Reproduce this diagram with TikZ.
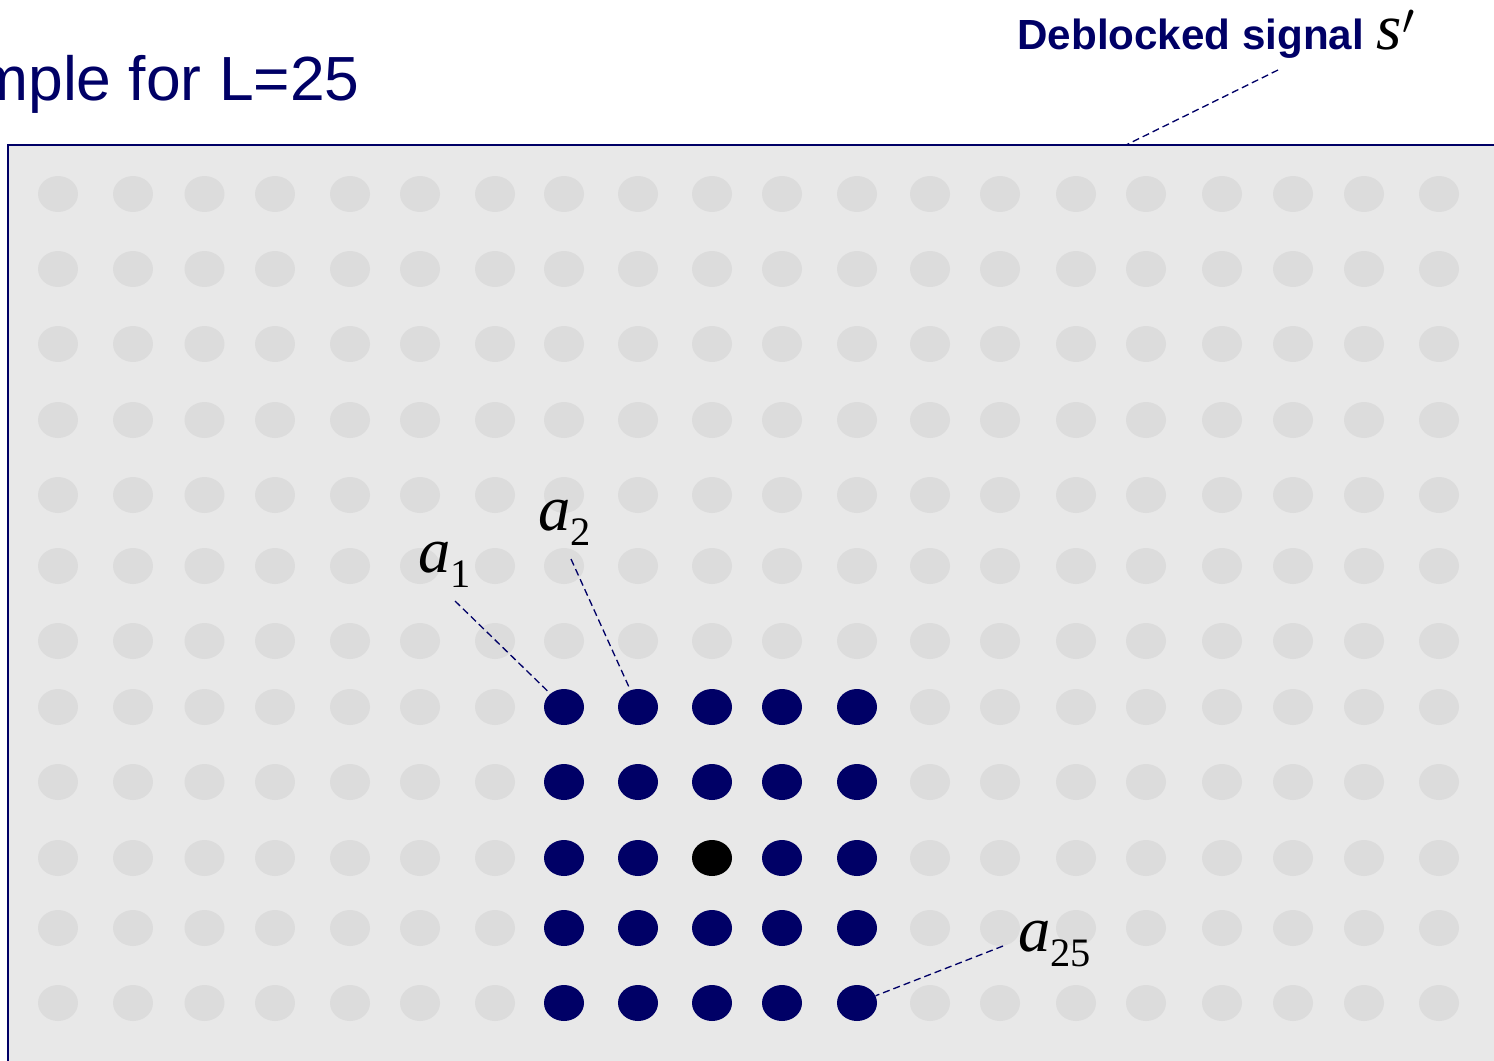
\documentclass[tikz,border=0pt]{standalone}
\usepackage{fontspec}
\setmainfont{Liberation Sans}
\newfontfamily\serif{Liberation Serif}
\usetikzlibrary{shapes.geometric}
\definecolor{deep}{HTML}{000066}
\definecolor{pane}{HTML}{E8E8E8}
\definecolor{spot}{HTML}{DCDCDC}
\newcommand{\coef}[2]{{\fontsize{36.8}{40}\selectfont\serif\itshape #1}\raisebox{-9pt}{\fontsize{23}{26}\selectfont\serif #2}}

\begin{document}
\begin{tikzpicture}[x=0.02cm, y=-0.02cm,
  pix/.style={ellipse, inner sep=0pt, minimum width=0.8cm, minimum height=0.72cm},
  leader/.style={deep, line width=0.75pt, dash pattern=on 4pt off 2.3pt},
  tag/.style={anchor=base west, inner sep=0pt}]
\clip (0,0) rectangle (1494,1061);
% frame
\fill[pane] (8,145) rectangle (1500,1070);
\draw[deep, line width=0.9pt] (1500,145) -- (8,145) -- (8,1070);
% pixel grid, 5x5 block around the centre
\foreach \x [count=\c] in {58,133,204.5,275,350,420,495,564,638,712,782,857,930,1000,1076,1146,1222,1293,1364,1439}
  \foreach \y [count=\r] in {194,269,344,420,495,566,641,707,782,858,928,1003} {
    \def\tone{spot}
    \ifnum\r>7 \ifnum\c>7 \ifnum\c<13 \def\tone{deep}\fi\fi\fi
    \ifnum\r=10 \ifnum\c=10 \def\tone{black}\fi\fi
    \node[pix, fill=\tone] (d-\r-\c) at (\x,\y) {};
  }
% titles
\node[anchor=base east, inner sep=0pt, text=deep, font=\fontsize{35.5}{40}\selectfont] (title) at (360,101) {Example for L=25};
\node[tag, text=deep, font=\fontsize{24}{28}\selectfont\bfseries] (sig) at (1017,50) {Deblocked signal\hspace{0.3em}\textcolor{black}{{\serif\mdseries\itshape\fontsize{37}{40}\selectfont s$'$}}};
\coordinate (sigtail) at (1278,70);
\coordinate (sighead) at (1126,145);
\draw[leader] (sigtail) -- (sighead);
% coefficient labels
\node[tag] (a1) at (418,572) {\coef{a}{1}};
\node[tag] (a2) at (538,530) {\coef{a}{2}};
\node[tag] (a25) at (1018,951) {\coef{a}{25}};
\coordinate (a1tail) at (455,601);
\coordinate (a2tail) at (571,559);
\coordinate (a25tail) at (1003,946);
\draw[leader] (a1tail) -- (d-8-8);
\draw[leader] (a2tail) -- (d-8-9);
\draw[leader] (a25tail) -- (d-12-12);
\end{tikzpicture}
\end{document}
